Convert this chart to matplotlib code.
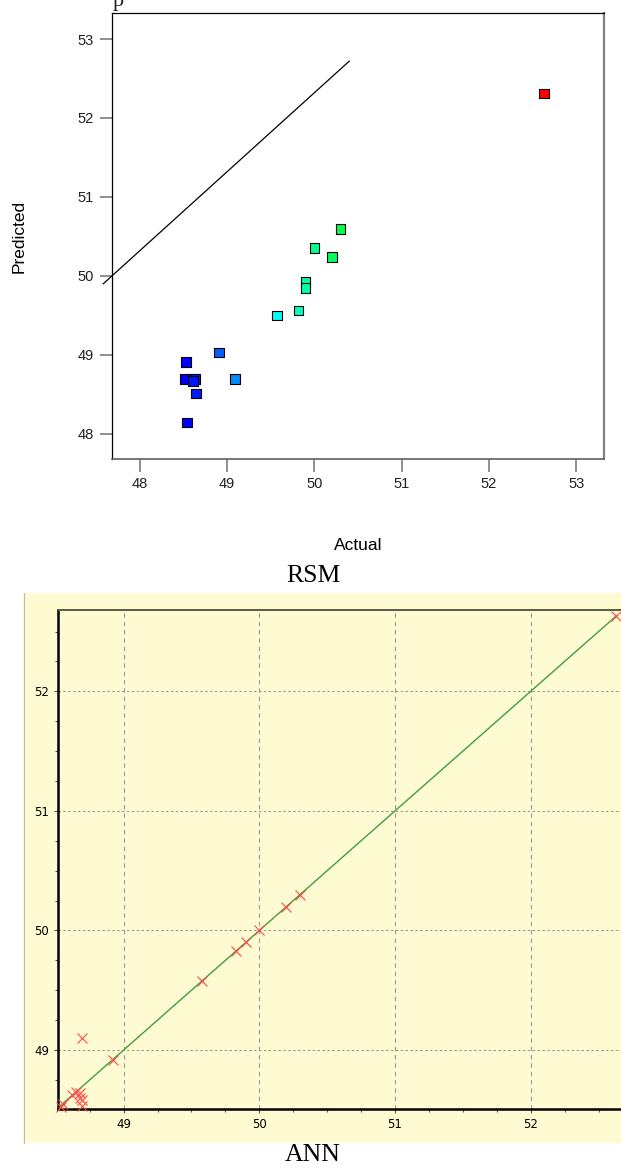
import matplotlib.pyplot as plt
from matplotlib.colors import LinearSegmentedColormap
from matplotlib.patches import Rectangle
from matplotlib.lines import Line2D

# RSM: actual vs predicted
rsm_actual = [48.53, 48.52, 48.61, 48.63, 48.61, 48.64, 48.54, 48.91, 49.09,
              49.57, 49.82, 49.90, 49.90, 50.00, 50.20, 50.30, 52.63]
rsm_pred = [48.91, 48.69, 48.70, 48.69, 48.67, 48.51, 48.14, 49.03, 48.69,
            49.50, 49.56, 49.92, 49.85, 50.35, 50.24, 50.59, 52.31]
rsm_line_x = [47.58, 50.40]
rsm_line_y = [49.90, 52.72]
rsm_ticks = [48, 49, 50, 51, 52, 53]

# ANN: actual vs predicted
ann_actual = [48.54, 48.55, 48.62, 48.65, 48.68, 48.68, 48.69, 48.69, 48.69,
              48.92, 49.58, 49.83, 49.90, 50.00, 50.20, 50.30, 52.63]
ann_pred = [48.52, 48.55, 48.62, 48.65, 48.64, 48.60, 48.58, 48.53, 49.10,
            48.92, 49.58, 49.83, 49.90, 50.00, 50.20, 50.30, 52.63]
ann_line = [48.50, 52.63]
ann_ticks = [49, 50, 51, 52]

W, H = 621, 1173
fig = plt.figure(figsize=(W / 100, H / 100), dpi=100)


def box(x0, y0, x1, y1):
    # pixel box (from top-left) -> figure fraction
    return [x0 / W, 1 - y1 / H, (x1 - x0) / W, (y1 - y0) / H]


# ---------- top: RSM ----------
ax1 = fig.add_axes(box(112, 13, 604, 459))
cmap = LinearSegmentedColormap.from_list(
    'de', ['#0000ff', '#00ffff', '#00ff00', '#ffff00', '#ff0000'])
ax1.scatter(rsm_actual, rsm_pred, c=rsm_actual, cmap=cmap, marker='s', s=48,
            edgecolors='black', linewidths=0.8, zorder=3)
ax1.plot(rsm_line_x, rsm_line_y, color='black', lw=0.9, clip_on=False)
ax1.set_xlim(47.68, 53.32)
ax1.set_ylim(47.68, 53.33)
ax1.set_xticks(rsm_ticks)
ax1.set_yticks(rsm_ticks)
ax1.tick_params(direction='out', length=9, width=1.1, color='#707070',
                labelsize=10.5, pad=4, labelcolor='#202020')
for lab in ax1.get_xticklabels() + ax1.get_yticklabels():
    lab.set_family('Liberation Sans')
ax1.spines['left'].set_color('black')
ax1.spines['top'].set_color('black')
ax1.spines['left'].set_linewidth(0.9)
ax1.spines['top'].set_linewidth(0.9)
ax1.spines['right'].set_color('#808080')
ax1.spines['bottom'].set_color('#606060')
ax1.spines['right'].set_linewidth(1.6)
ax1.spines['bottom'].set_linewidth(1.2)
fig.text(19 / W, 1 - 236 / H, 'Predicted', rotation=90, ha='center',
         va='center', family='Liberation Sans', fontsize=12.5)
fig.text(358 / W, 1 - 546 / H, 'Actual', ha='center', va='center',
         family='Liberation Sans', fontsize=12.5)
fig.text(118 / W, 1 - 6 / H, 'p', ha='center', va='baseline',
         family='Liberation Serif', fontsize=16, color='#202020')
fig.text(313 / W, 1 - 576 / H, 'RSM', ha='center', va='center',
         family='Liberation Serif', fontsize=18.5)

# ---------- bottom: ANN ----------
yellow = '#fefbd3'
fig.patches.append(Rectangle((23 / W, 1 - 1143 / H), 1, (1143 - 593) / H,
                             transform=fig.transFigure, facecolor=yellow,
                             edgecolor='none', zorder=-5))
fig.lines.append(Line2D([23.5 / W, 23.5 / W], [1 - 1143 / H, 1 - 593 / H],
                        transform=fig.transFigure, color='#b8b8b8', lw=0.8,
                        zorder=-4))

ax2 = fig.add_axes(box(57.7, 610, 623, 1109.3))
ax2.set_zorder(2)
ax2.set_facecolor(yellow)
ax2.set_xlim(48.514, 52.68)
ax2.set_ylim(48.504, 52.68)
ax2.set_xticks(ann_ticks)
ax2.set_yticks(ann_ticks)
ax2.set_xticks([t + d for t in [48, 49, 50, 51, 52] for d in (0.25, 0.5, 0.75)
                if 48.514 < t + d < 52.68], minor=True)
ax2.set_yticks([t + d for t in [48, 49, 50, 51, 52] for d in (0.25, 0.5, 0.75)
                if 48.504 < t + d < 52.68], minor=True)
for t in ann_ticks:
    ax2.axvline(t, color='#9a9a9a', lw=0.8, ls=(0, (4, 3.5)), zorder=1)
    ax2.axhline(t, color='#9a9a9a', lw=0.8, ls=(0, (2.2, 2.2)), zorder=1)
ax2.plot(ann_line, ann_line, color='#3f9f3f', lw=1.0, zorder=2)
ax2.plot(ann_actual, ann_pred, ls='none', marker='x', ms=6.5, mew=0.8,
         color='#ff4a4a', zorder=3, clip_on=False)
ax2.tick_params(which='major', direction='out', length=3, width=0.8,
                color='#555555', labelsize=8.5, pad=3)
ax2.tick_params(which='minor', direction='out', length=2, width=0.8,
                color='#555555')
for lab in ax2.get_xticklabels() + ax2.get_yticklabels():
    lab.set_family(['Liberation Sans Narrow', 'DejaVu Sans'])
ax2.spines['left'].set_linewidth(1.8)
ax2.spines['bottom'].set_linewidth(1.8)
ax2.spines['left'].set_color('black')
ax2.spines['bottom'].set_color('black')
ax2.spines['top'].set_color('#5a5a4a')
ax2.spines['top'].set_linewidth(1.4)
ax2.spines['right'].set_visible(False)
fig.text(313 / W, 1 - 1155 / H, 'ANN', ha='center', va='center',
         family='Liberation Serif', fontsize=18.5)

fig.savefig('out.png', dpi=100)
